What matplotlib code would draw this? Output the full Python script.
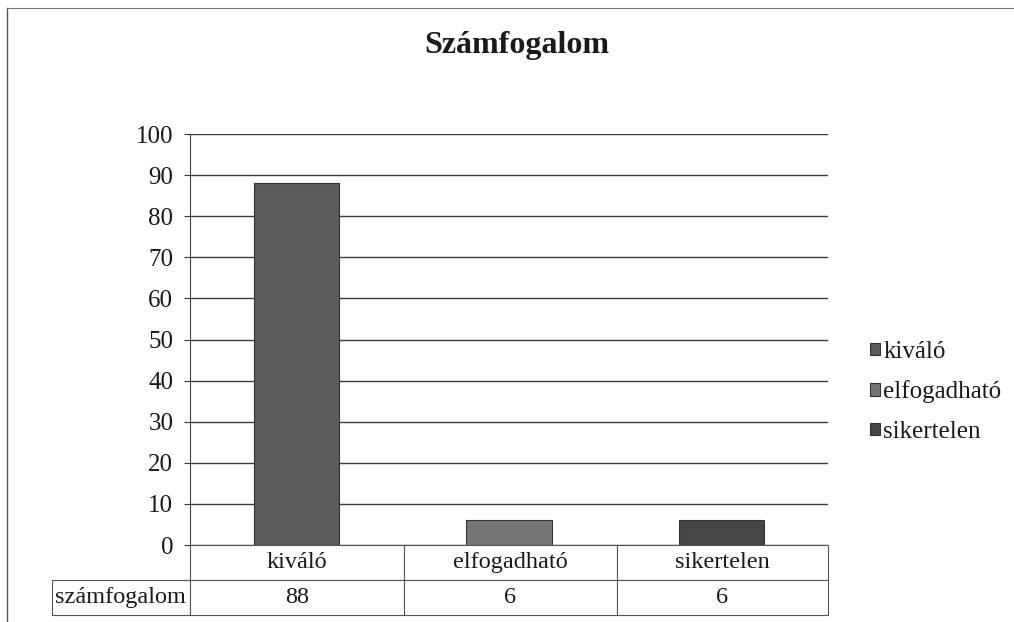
import matplotlib.pyplot as plt
from matplotlib.lines import Line2D

# data
categories = ['kiváló', 'elfogadható', 'sikertelen']
values = [88, 6, 6]
series_name = 'számfogalom'
colors = ['#5a5a5a', '#757575', '#464646']
yticks = [0, 10, 20, 30, 40, 50, 60, 70, 80, 90, 100]

plt.rcParams['font.family'] = ['Liberation Serif', 'DejaVu Serif']

fig = plt.figure(figsize=(10.14, 6.22), dpi=100)
ax = fig.add_axes([190 / 1014, 1 - 545 / 622, 638 / 1014, 411 / 622])

# outer frame of the chart (left and top only are visible)
fig.add_artist(Line2D([7 / 1014, 7 / 1014], [0, 1 - 8 / 622], color='#555555', lw=1))
fig.add_artist(Line2D([7 / 1014, 1], [1 - 8 / 622, 1 - 8 / 622], color='#777777', lw=0.8))

for i, (cat, val, col) in enumerate(zip(categories, values, colors)):
    ax.bar(i, val, width=0.4, color=col, edgecolor='#333333', linewidth=0.8,
           label=cat, zorder=3)

ax.set_xlim(-0.5, 2.5)
ax.set_ylim(0, 100)
ax.set_yticks(yticks)
ax.tick_params(axis='y', labelsize=18, length=4, color='#333333', pad=8,
               labelcolor='#1a1a1a')
ax.set_xticks([])
ax.yaxis.grid(True, color='#3a3a3a', linewidth=1.0, zorder=0)
for s in ['top', 'right', 'bottom']:
    ax.spines[s].set_visible(False)
ax.spines['left'].set_color('#444444')
ax.spines['left'].set_linewidth(0.8)

fig.text(517 / 1014, 1 - 45 / 622, 'Számfogalom', fontsize=23, fontweight='bold',
         ha='center', va='center', color='#1a1a1a')

# data table below the plot
cell_text = [[''] + categories, [series_name] + [str(v) for v in values]]
col_w = [138, 214, 213, 211]
tot = sum(col_w)
tbl = ax.table(cellText=cell_text, colWidths=[w / tot for w in col_w],
               cellLoc='center', bbox=[-138 / 638, -70 / 411, tot / 638, 70 / 411])
tbl.auto_set_font_size(False)
tbl.set_fontsize(17.5)
for (r, c), cell in tbl.get_celld().items():
    cell.set_edgecolor('#555555')
    cell.set_linewidth(0.8)
    cell.get_text().set_color('#1a1a1a')
    if r == 0 and c == 0:
        cell.visible_edges = ''
    if c == 0 and r == 1:
        cell.get_text().set_ha('left')
        cell.PAD = 0.02

leg = fig.legend(loc='center left', bbox_to_anchor=(857 / 1014, 1 - 392 / 622),
                 frameon=False, fontsize=18, handlelength=0.4, handleheight=0.4,
                 handletextpad=0.15, labelspacing=0.7, borderpad=0)
for t in leg.get_texts():
    t.set_color('#1a1a1a')

plt.savefig('out.png', dpi=100)
